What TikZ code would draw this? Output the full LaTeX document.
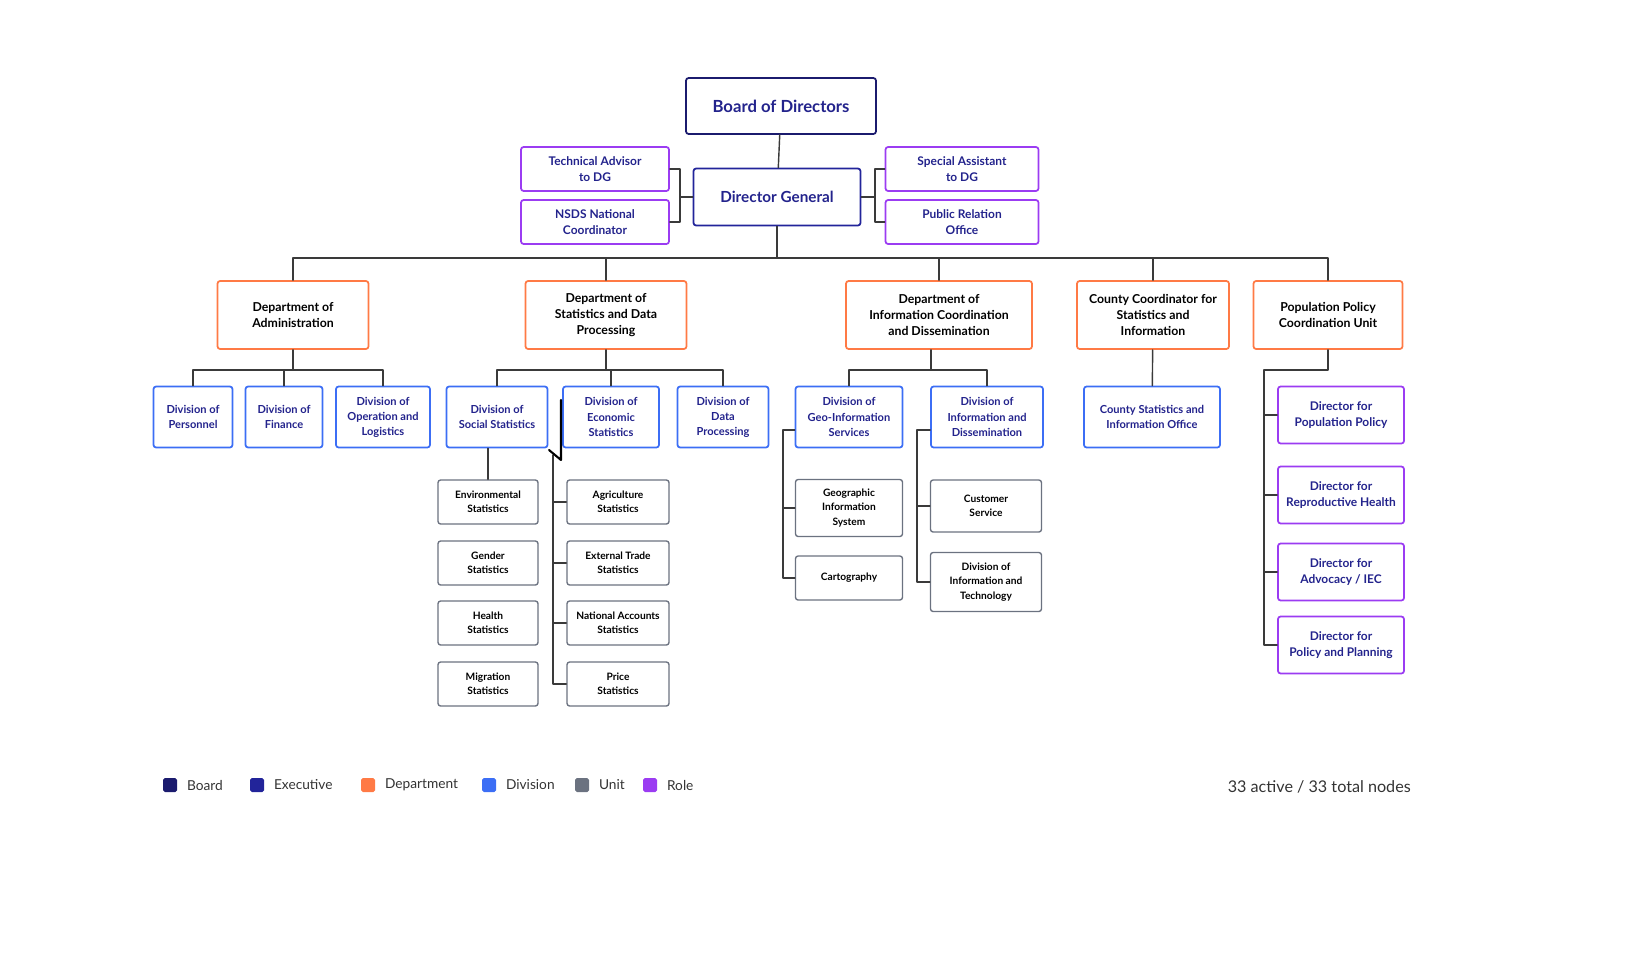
\documentclass[tikz,border=0pt]{standalone}
\usepackage{fontspec}
\setmainfont{Lato}
\usepackage{xcolor}
\usetikzlibrary{positioning}
\definecolor{boardc}{HTML}{1B1B6E}
\definecolor{execc}{HTML}{22249A}
\definecolor{deptc}{HTML}{FF7A45}
\definecolor{divc}{HTML}{3C6EF5}
\definecolor{unitc}{HTML}{6B7280}
\definecolor{rolec}{HTML}{9B3CF2}
\definecolor{txtc}{HTML}{23238C}
\definecolor{linec}{HTML}{3A3A3A}
\begin{document}
\begin{tikzpicture}
    [x=0.02cm,y=-0.02cm,line cap=round,line join=round,
     box/.style={draw,line width=1pt,rounded corners=1.5pt,align=center,inner sep=0pt,font=\bfseries\fontsize{7}{9.3}\selectfont},
     board/.style={box,draw=boardc,text=txtc,font=\bfseries\fontsize{9.5}{11}\selectfont},
     exec/.style={box,draw=execc,text=txtc,font=\bfseries\fontsize{8.7}{10}\selectfont},
     dept/.style={box,draw=deptc,text=black},
     divn/.style={box,draw=divc,text=txtc,font=\bfseries\fontsize{6.3}{8.6}\selectfont},
     unit/.style={box,draw=unitc,line width=0.8pt,text=black,font=\bfseries\fontsize{5.8}{8.2}\selectfont},
     role/.style={box,draw=rolec,text=txtc,font=\bfseries\fontsize{6.8}{9.2}\selectfont},
     link/.style={draw=linec,line width=0.8pt},
     key/.style={minimum size=0.28cm,inner sep=0pt,rounded corners=1pt},
     keytext/.style={right=2pt,font=\fontsize{7.8}{9}\selectfont,text=black!80}]
\useasboundingbox (0,0) rectangle (1643,957);
%top
\node[board,minimum width=190*0.02cm,minimum height=56*0.02cm] (bod) at (781,106) {Board of Directors};
\node[exec,minimum width=167*0.02cm,minimum height=57*0.02cm] (dg) at (777,197) {Director General};
\node[role,minimum width=148*0.02cm,minimum height=44*0.02cm] (tech) at (595,169) {Technical Advisor\\to DG};
\node[role,minimum width=148*0.02cm,minimum height=44*0.02cm] (nsds) at (595,222) {NSDS National\\Coordinator};
\node[role,minimum width=153*0.02cm,minimum height=44*0.02cm] (spec) at (962,169) {Special Assistant\\to DG};
\node[role,minimum width=153*0.02cm,minimum height=44*0.02cm] (pro) at (962,222) {Public Relation\\Office};
%departments
\node[dept,minimum width=151*0.02cm,minimum height=68*0.02cm] (adm) at (293,315) {Department of\\Administration};
\node[dept,minimum width=161*0.02cm,minimum height=68*0.02cm] (sdp) at (606,315) {Department of\\Statistics and Data\\Processing};
\node[dept,minimum width=186*0.02cm,minimum height=68*0.02cm] (icd) at (939,315) {Department of\\Information Coordination\\and Dissemination};
\node[dept,minimum width=152*0.02cm,minimum height=68*0.02cm] (cty) at (1153,315) {County Coordinator for\\Statistics and\\Information};
\node[dept,minimum width=149*0.02cm,minimum height=68*0.02cm] (pop) at (1328,315) {Population Policy\\Coordination Unit};
%divisions
\node[divn,minimum width=79*0.02cm,minimum height=61*0.02cm] (per) at (193,417) {Division of\\Personnel};
\node[divn,minimum width=77*0.02cm,minimum height=61*0.02cm] (fin) at (284,417) {Division of\\Finance};
\node[divn,minimum width=94*0.02cm,minimum height=61*0.02cm] (ops) at (383,417) {Division of\\Operation and\\Logistics};
\node[divn,minimum width=101*0.02cm,minimum height=61*0.02cm] (soc) at (497,417) {Division of\\Social Statistics};
\node[divn,minimum width=96*0.02cm,minimum height=61*0.02cm] (eco) at (611,417) {Division of\\Economic\\Statistics};
\node[divn,minimum width=91*0.02cm,minimum height=61*0.02cm] (dat) at (723,417) {Division of\\Data\\Processing};
\node[divn,minimum width=107*0.02cm,minimum height=61*0.02cm] (geo) at (849,417) {Division of\\Geo-Information\\Services};
\node[divn,minimum width=112*0.02cm,minimum height=61*0.02cm] (ids) at (987,417) {Division of\\Information and\\Dissemination};
\node[divn,minimum width=136*0.02cm,minimum height=61*0.02cm] (cso) at (1152,417) {County Statistics and\\Information Office};
%roles
\node[role,minimum width=126*0.02cm,minimum height=57*0.02cm] (r1) at (1341,415) {Director for\\Population Policy};
\node[role,minimum width=126*0.02cm,minimum height=57*0.02cm] (r2) at (1341,495) {Director for\\Reproductive Health};
\node[role,minimum width=126*0.02cm,minimum height=57*0.02cm] (r3) at (1341,572) {Director for\\Advocacy / IEC};
\node[role,minimum width=126*0.02cm,minimum height=57*0.02cm] (r4) at (1341,645) {Director for\\Policy and Planning};
%units
\node[unit,minimum width=100*0.02cm,minimum height=44*0.02cm] (env) at (488,502) {Environmental\\Statistics};
\node[unit,minimum width=100*0.02cm,minimum height=44*0.02cm] (gen) at (488,563) {Gender\\Statistics};
\node[unit,minimum width=100*0.02cm,minimum height=44*0.02cm] (hea) at (488,623) {Health\\Statistics};
\node[unit,minimum width=100*0.02cm,minimum height=44*0.02cm] (mig) at (488,684) {Migration\\Statistics};
\node[unit,minimum width=102*0.02cm,minimum height=44*0.02cm] (agr) at (618,502) {Agriculture\\Statistics};
\node[unit,minimum width=102*0.02cm,minimum height=44*0.02cm] (ext) at (618,563) {External Trade\\Statistics};
\node[unit,minimum width=102*0.02cm,minimum height=44*0.02cm] (nat) at (618,623) {National Accounts\\Statistics};
\node[unit,minimum width=102*0.02cm,minimum height=44*0.02cm] (pri) at (618,684) {Price\\Statistics};
\node[unit,minimum width=107*0.02cm,minimum height=57*0.02cm] (gis) at (849,508) {Geographic\\Information\\System};
\node[unit,minimum width=107*0.02cm,minimum height=44*0.02cm] (car) at (849,578) {Cartography};
\node[unit,minimum width=111*0.02cm,minimum height=52*0.02cm] (cus) at (986,506) {Customer\\Service};
\node[unit,minimum width=111*0.02cm,minimum height=59*0.02cm] (dit) at (986,582) {Division of\\Information and\\Technology};
%connectors
\coordinate (lb) at (680,197);
\coordinate (rb) at (875,197);
\draw[link] (bod) -- (dg);
\draw[link] (tech.east) -| (lb) |- (nsds.east);
\draw[link] (lb) -- (dg.west);
\draw[link] (spec.west) -| (rb) |- (pro.west);
\draw[link] (rb) -- (dg.east);
\coordinate (bus) at (777,258);
\draw[link] (dg) -- (bus);
\foreach \d in {adm,sdp,icd,cty,pop}
  \draw[link] (bus) -| (\d.north);
\coordinate (b1) at (293,370);
\draw[link] (adm) -- (b1);
\foreach \d in {per,fin,ops} \draw[link] (b1) -| (\d.north);
\coordinate (b2) at (606,370);
\draw[link] (sdp) -- (b2);
\foreach \d in {soc,eco,dat} \draw[link] (b2) -| (\d.north);
\coordinate (b3) at (931,370);
\draw[link] (icd.south -| b3) -- (b3);
\foreach \d in {geo,ids} \draw[link] (b3) -| (\d.north);
\draw[link] (cty) -- (cso);
\coordinate (b4) at (1264,370);
\draw[link] (pop.south) |- (b4) |- (r4.west);
\foreach \d in {r1,r2,r3} \draw[link] (b4 |- \d.west) -- (\d.west);
\draw[link] (soc.south -| env.north) -- (env.north);
\coordinate (s1) at (553,455);
\draw[link] (s1) |- (pri.west);
\foreach \d in {agr,ext,nat} \draw[link] (s1 |- \d.west) -- (\d.west);
\coordinate (s2) at (783,430);
\draw[link] (geo.west |- s2) -- (s2) |- (car.west);
\draw[link] (s2 |- gis.west) -- (gis.west);
\coordinate (s3) at (917,430);
\draw[link] (ids.west |- s3) -- (s3) |- (dit.west);
\draw[link] (s3 |- cus.west) -- (cus.west);
%tick mark
\draw[line width=1.2pt] (561,400) -- (561,460) -- (549,450);
%legend
\foreach \c/\t/\x in {boardc/Board/170,execc/Executive/257,deptc/Department/368,divc/Division/489,unitc/Unit/582,rolec/Role/650}
  \node[key,fill=\c] (k\t) at (\x,785) {} node[keytext] at (k\t.east) {\t};
\node[anchor=east,font=\fontsize{9.2}{10}\selectfont,text=black!80] (cnt) at (1417,787) {33 active / 33 total nodes};
\end{tikzpicture}
\end{document}
